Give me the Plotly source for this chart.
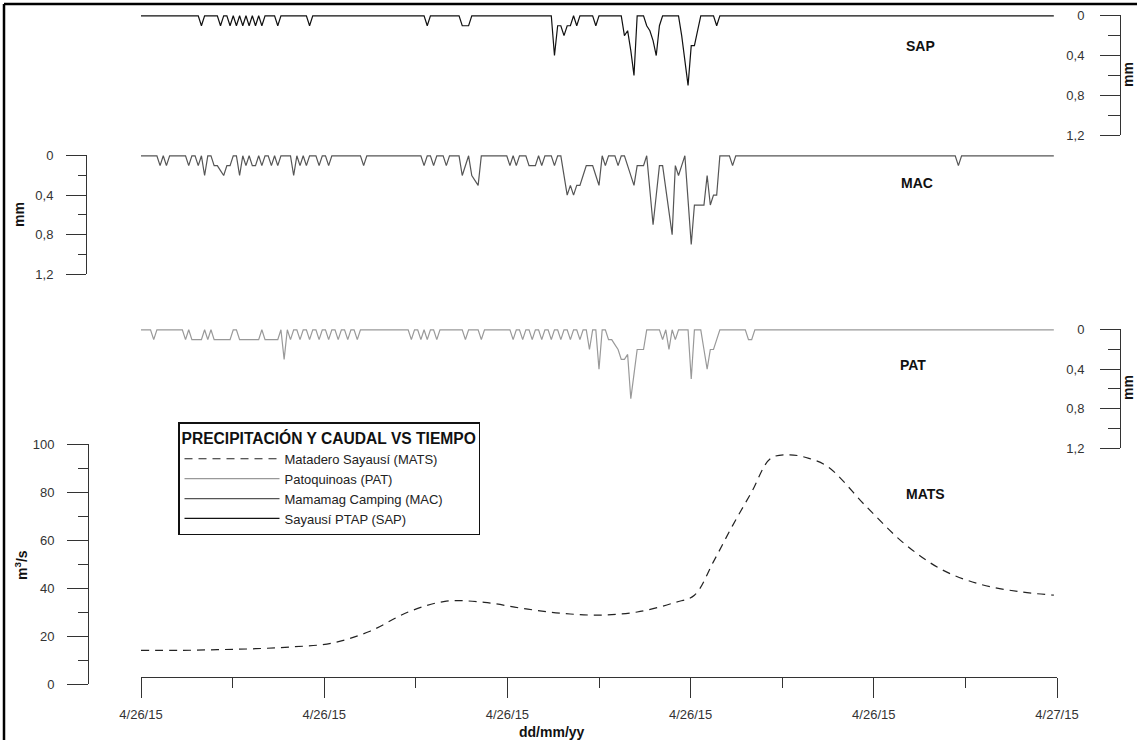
import pandas as pd
import plotly.graph_objects as go

# ---------------- data ----------------
DAY = "2015-04-26"
X_START = "2015-04-26 00:00"
X_END = "2015-04-27 00:00"
X_TICK_TIMES = ["2015-04-26 00:00", "2015-04-26 04:48", "2015-04-26 09:36",
                "2015-04-26 14:24", "2015-04-26 19:12", "2015-04-27 00:00"]
X_TICK_LABELS = ["4/26/15", "4/26/15", "4/26/15", "4/26/15", "4/26/15", "4/27/15"]
X_MINOR_TIMES = ["2015-04-26 02:24", "2015-04-26 07:12", "2015-04-26 12:00",
                 "2015-04-26 16:48", "2015-04-26 21:36"]

# precipitation (mm) every 5 minutes; listed times are the non-zero readings
SAP_TIMES = ["01:35", "02:05", "02:20", "02:30", "02:40", "02:50", "03:00", "03:10", "03:35",
             "04:25", "07:30", "08:25", "08:30", "08:35", "10:50", "10:55", "11:00", "11:05",
             "11:10", "11:15", "11:25", "11:55", "12:40", "12:45", "12:50", "12:55", "13:15",
             "13:20", "13:25", "13:30", "13:35", "14:10", "14:15", "14:20", "14:25", "14:30",
             "14:35", "15:05"]
SAP_MM = [0.1, 0.1, 0.1, 0.1, 0.1, 0.1, 0.1, 0.1, 0.1,
          0.1, 0.1, 0.1, 0.1, 0.1, 0.4, 0.1, 0.1, 0.2,
          0.1, 0.1, 0.1, 0.1, 0.2, 0.15, 0.35, 0.6, 0.1,
          0.15, 0.25, 0.4, 0.1, 0.2, 0.45, 0.7, 0.3, 0.3,
          0.15, 0.1]

MAC_TIMES = ["00:30", "00:40", "01:15", "01:30", "01:40", "01:55", "02:00", "02:05", "02:10",
             "02:15", "02:20", "02:35", "02:45", "02:55", "03:00", "03:10", "03:25", "03:35",
             "04:00", "04:10", "04:20", "04:40", "04:55", "05:50", "07:25", "07:40", "08:00",
             "08:25", "08:30", "08:40", "08:45", "08:50", "09:40", "09:50", "10:10", "10:15",
             "10:20", "10:30", "10:50", "11:05", "11:10", "11:15", "11:20", "11:25", "11:30",
             "11:35", "11:40", "11:45", "11:50", "11:55", "12:00", "12:10", "12:30", "12:45",
             "12:50", "12:55", "13:00", "13:05", "13:10", "13:20", "13:25", "13:30", "13:35",
             "13:40", "13:45", "13:50", "13:55", "14:00", "14:05", "14:10", "14:20", "14:25",
             "14:30", "14:35", "14:40", "14:45", "14:50", "14:55", "15:00", "15:05", "15:30",
             "21:25"]
MAC_MM = [0.1, 0.1, 0.1, 0.1, 0.2, 0.1, 0.1, 0.15, 0.2,
          0.1, 0.1, 0.2, 0.1, 0.1, 0.1, 0.1, 0.1, 0.1,
          0.2, 0.1, 0.1, 0.1, 0.1, 0.1, 0.1, 0.1, 0.1,
          0.2, 0.1, 0.2, 0.25, 0.3, 0.1, 0.1, 0.1, 0.1,
          0.1, 0.1, 0.1, 0.2, 0.4, 0.3, 0.4, 0.3, 0.3,
          0.2, 0.1, 0.1, 0.1, 0.2, 0.3, 0.1, 0.1, 0.1,
          0.2, 0.3, 0.1, 0.1, 0.1, 0.35, 0.7, 0.4, 0.1,
          0.1, 0.33, 0.57, 0.8, 0.1, 0.2, 0.1, 0.45, 0.9,
          0.5, 0.5, 0.5, 0.5, 0.2, 0.5, 0.4, 0.4, 0.1,
          0.1]

PAT_TIMES = ["00:20", "01:10", "01:20", "01:25", "01:30", "01:35", "01:45", "01:55", "02:00",
             "02:05", "02:10", "02:15", "02:20", "02:35", "02:40", "02:45", "02:50", "02:55",
             "03:00", "03:05", "03:15", "03:20", "03:25", "03:30", "03:35", "03:45", "03:55",
             "04:10", "04:25", "04:40", "04:55", "05:10", "05:25", "05:40", "07:05", "07:20",
             "07:30", "07:45", "08:30", "08:55", "09:45", "10:00", "10:15", "10:30", "10:45",
             "11:00", "11:15", "11:30", "11:45", "12:00", "12:15", "12:20", "12:25", "12:30",
             "12:35", "12:40", "12:45", "12:50", "12:55", "13:00", "13:05", "13:10", "13:40",
             "13:50", "14:00", "14:25", "14:45", "14:50", "14:55", "15:00", "15:05", "15:55",
             "16:00"]
PAT_MM = [0.1, 0.1, 0.1, 0.1, 0.1, 0.1, 0.1, 0.1, 0.1,
          0.1, 0.1, 0.1, 0.1, 0.1, 0.1, 0.1, 0.1, 0.1,
          0.1, 0.1, 0.1, 0.1, 0.1, 0.1, 0.1, 0.3, 0.1,
          0.1, 0.1, 0.1, 0.1, 0.1, 0.1, 0.1, 0.1, 0.1,
          0.1, 0.1, 0.1, 0.1, 0.1, 0.1, 0.1, 0.1, 0.1,
          0.1, 0.1, 0.1, 0.2, 0.4, 0.1, 0.1, 0.15, 0.2,
          0.3, 0.3, 0.25, 0.7, 0.45, 0.2, 0.2, 0.2, 0.1,
          0.2, 0.1, 0.5, 0.2, 0.4, 0.2, 0.2, 0.1, 0.1,
          0.1]

# discharge (m3/s)
MATS_TIMES = ["00:00", "01:00", "02:00", "03:00", "04:00", "05:00", "06:00", "07:00", "08:00",
              "09:00", "10:00", "11:00", "12:00", "13:00", "14:00", "14:30", "15:00", "15:30",
              "16:00", "16:30", "17:00", "17:30", "18:00", "19:00", "20:00", "21:00", "22:00",
              "23:00", "23:55"]
MATS_Q = [14.0, 14.0, 14.3, 14.7, 15.5, 17.0, 22.0, 30.0, 34.5,
          34.0, 31.5, 29.5, 28.7, 30.0, 34.0, 37.0, 51.0, 66.0,
          80.0, 94.0, 95.5, 94.0, 90.5, 74.0, 58.5, 47.5, 41.5,
          38.5, 37.0]

NAMES = ["Matadero Sayausí (MATS)", "Patoquinoas (PAT)", "Mamamag Camping (MAC)", "Sayausí PTAP (SAP)"]

# ---------------- helpers ----------------
W, H = 1137, 740
def px(x):
    return x / W
def py(y):
    return 1 - y / H

grid = pd.date_range(f"{DAY} 00:00", f"{DAY} 23:55", freq="5min")

def full_series(times, values):
    s = pd.Series(0.0, index=grid)
    for t, v in zip(times, values):
        s[pd.Timestamp(f"{DAY} {t}")] = v
    return s

sap = full_series(SAP_TIMES, SAP_MM)
mac = full_series(MAC_TIMES, MAC_MM)
pat = full_series(PAT_TIMES, PAT_MM)
mats_x = [pd.Timestamp(f"{DAY} {t}") for t in MATS_TIMES]

FONT = "Arial, Liberation Sans, sans-serif"
AX = "#333333"
TICKFONT = dict(family=FONT, size=13, color=AX)

fig = go.Figure()
fig.add_trace(go.Scatter(x=mats_x, y=MATS_Q, name=NAMES[0], mode="lines", yaxis="y",
                         line=dict(color="#222222", width=1.2, dash="8px,6px", shape="spline", smoothing=1.0)))
fig.add_trace(go.Scatter(x=pat.index, y=pat.values, name=NAMES[1], mode="lines", yaxis="y2",
                         line=dict(color="#999999", width=1.2)))
fig.add_trace(go.Scatter(x=mac.index, y=mac.values, name=NAMES[2], mode="lines", yaxis="y3",
                         line=dict(color="#555555", width=1.2)))
fig.add_trace(go.Scatter(x=sap.index, y=sap.values, name=NAMES[3], mode="lines", yaxis="y4",
                         line=dict(color="#111111", width=1.2)))

def mm_axis(top, bottom, xpos, minor_len, standoff):
    return dict(domain=[py(bottom), py(top)], range=[1.2, -0.008], anchor="free", position=px(xpos),
                side="left", automargin=False, showline=True, linecolor=AX, linewidth=1,
                showgrid=False, zeroline=False,
                ticks="outside", ticklen=20, tickwidth=1, tickcolor=AX,
                tickmode="array", tickvals=[0, 0.4, 0.8, 1.2], ticktext=["0", "0,4", "0,8", "1,2"],
                tickfont=TICKFONT, ticklabelstandoff=standoff,
                minor=dict(ticks="outside", ticklen=minor_len, tickwidth=1, tickcolor=AX,
                           tickmode="array", tickvals=[0.2, 0.6, 1.0], showgrid=False))

fig.update_layout(
    width=W, height=H, margin=dict(l=0, r=0, t=0, b=0, pad=0, autoexpand=False), autosize=False,
    paper_bgcolor="white", plot_bgcolor="rgba(0,0,0,0)",
    font=dict(family=FONT, color="#222"),
    xaxis=dict(domain=[px(141), px(1057)], range=[X_START, X_END], anchor="free", position=py(677),
               automargin=False, showline=True, linecolor=AX, linewidth=1, showgrid=False, zeroline=False,
               ticks="outside", ticklen=20, tickwidth=1, tickcolor=AX,
               tickmode="array", tickvals=X_TICK_TIMES, ticktext=X_TICK_LABELS,
               tickfont=TICKFONT, ticklabelstandoff=5,
               minor=dict(ticks="outside", ticklen=10, tickwidth=1, tickcolor=AX,
                          tickmode="array", tickvals=X_MINOR_TIMES, showgrid=False)),
    yaxis=dict(domain=[py(684), py(444)], range=[0, 100], anchor="free", position=px(88),
               side="left", automargin=False, showline=True, linecolor=AX, linewidth=1,
               showgrid=False, zeroline=False,
               ticks="outside", ticklen=21, tickwidth=1, tickcolor=AX,
               tickmode="array", tickvals=[0, 20, 40, 60, 80, 100],
               tickfont=TICKFONT, ticklabelstandoff=10,
               minor=dict(ticks="outside", ticklen=10, tickwidth=1, tickcolor=AX,
                          tickmode="array", tickvals=[10, 30, 50, 70, 90], showgrid=False)),
    yaxis2=mm_axis(329, 448, 1120, 12, 13),
    yaxis3=mm_axis(155, 274, 86, 8, 10),
    yaxis4=mm_axis(15, 135, 1120, 12, 13),
    showlegend=True,
    legend=dict(x=px(178), y=py(422), xanchor="left", yanchor="top",
                bgcolor="white", bordercolor="#111", borderwidth=1.5,
                font=dict(family=FONT, size=13, color="#222"), tracegroupgap=0,
                itemwidth=95,
                title=dict(text="<b>PRECIPITACIÓN Y CAUDAL VS TIEMPO</b>",
                           font=dict(family=FONT, size=15.6, color="#111"))),
)

ann = []
for txt, x, y in [("SAP", 920, 46), ("MAC", 917, 183), ("PAT", 913, 365), ("MATS", 925, 494)]:
    ann.append(dict(text=f"<b>{txt}</b>", x=px(x), y=py(y), xref="paper", yref="paper",
                    xanchor="center", yanchor="middle",
                    showarrow=False, font=dict(family=FONT, size=14, color="#111")))
for txt, x, y in [("mm", 1128, 75), ("mm", 1128, 388), ("mm", 19, 215), ("m<sup>3</sup>/s", 21, 565)]:
    ann.append(dict(text=f"<b>{txt}</b>", x=px(x), y=py(y), xref="paper", yref="paper",
                    xanchor="center", yanchor="middle",
                    showarrow=False, textangle=-90, font=dict(family=FONT, size=14, color="#111")))
ann.append(dict(text="<b>dd/mm/yy</b>", x=px(552), y=py(732), xref="paper", yref="paper",
                xanchor="center", yanchor="middle",
                showarrow=False, font=dict(family=FONT, size=14, color="#111")))
fig.update_layout(annotations=ann)

# frame around the picture (top and left edges are visible in the original)
fig.add_shape(type="line", xref="paper", yref="paper", x0=px(4), x1=1, y0=py(4), y1=py(4),
              line=dict(color="black", width=2.5), layer="above")
fig.add_shape(type="line", xref="paper", yref="paper", x0=px(4), x1=px(4), y0=0, y1=py(4),
              line=dict(color="black", width=2.5), layer="above")

fig.write_html("out.html",
               config={"displayModeBar": False, "staticPlot": True},
               post_script="document.body.style.margin='0px';document.body.style.padding='0px';"
                           "document.body.style.overflow='hidden';")
